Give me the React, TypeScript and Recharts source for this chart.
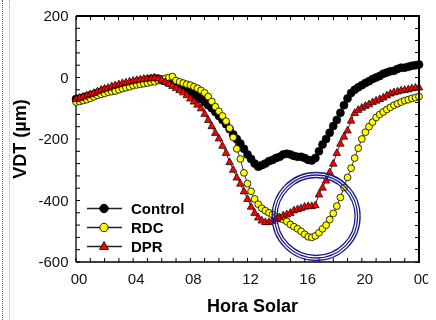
import React from 'react';
import { LineChart, Line, XAxis, YAxis, ReferenceDot } from 'recharts';

const hours = [
  0, 0.25, 0.5, 0.75, 1, 1.25, 1.5, 1.75, 2, 2.25, 2.5, 2.75, 3, 3.25, 3.5, 3.75,
  4, 4.25, 4.5, 4.75, 5, 5.25, 5.5, 5.75, 6, 6.25, 6.5, 6.75, 7, 7.25, 7.5, 7.75,
  8, 8.25, 8.5, 8.75, 9, 9.25, 9.5, 9.75, 10, 10.25, 10.5, 10.75, 11, 11.25, 11.5, 11.75,
  12, 12.25, 12.5, 12.75, 13, 13.25, 13.5, 13.75, 14, 14.25, 14.5, 14.75, 15, 15.25, 15.5, 15.75,
  16, 16.25, 16.5, 16.75, 17, 17.25, 17.5, 17.75, 18, 18.25, 18.5, 18.75, 19, 19.25, 19.5, 19.75,
  20, 20.25, 20.5, 20.75, 21, 21.25, 21.5, 21.75, 22, 22.25, 22.5, 22.75, 23, 23.25, 23.5, 23.75, 24,
];

const control = [
  -70, -68, -65, -62, -58, -55, -50, -47, -42, -40, -37, -33, -30, -27, -24, -22,
  -18, -15, -12, -10, -7, -5, -3, -4, -8, -12, -16, -20, -25, -30, -36, -42,
  -48, -55, -62, -70, -80, -90, -100, -112, -125, -138, -152, -168, -185, -200, -215, -232,
  -250, -265, -280, -290, -285, -280, -272, -268, -262, -258, -250, -248, -250, -255, -258, -258,
  -262, -268, -270, -262, -240, -218, -200, -180, -158, -138, -115, -90, -68, -50, -40, -32,
  -25, -18, -12, -5, 0, 5, 12, 16, 20, 22, 28, 32, 32, 35, 38, 40, 42,
];

const rdc = [
  -80, -78, -75, -72, -68, -63, -58, -55, -52, -48, -46, -44, -40, -36, -33, -30,
  -26, -24, -22, -20, -18, -15, -14, -10, -6, -3, 0, 3, -10, -14, -18, -22,
  -25, -30, -35, -42, -50, -62, -78, -95, -110, -125, -142, -165, -195, -232, -265, -310,
  -345, -370, -395, -412, -425, -433, -440, -446, -452, -458, -462, -468, -478, -485, -492, -500,
  -510, -518, -520, -515, -505, -492, -480, -462, -442, -418, -390, -358, -325, -295, -262, -230,
  -200, -178, -160, -145, -130, -120, -112, -104, -97, -90, -85, -80, -75, -72, -68, -65, -62,
];

const dpr = [
  -70, -66, -62, -58, -54, -50, -45, -40, -36, -33, -28, -25, -22, -18, -16, -13,
  -10, -8, -6, -4, -3, -2, 0, -3, -8, -14, -20, -27, -34, -41, -48, -57,
  -68, -78, -88, -100, -118, -138, -158, -180, -198, -222, -245, -275, -300, -325, -345, -370,
  -395, -420, -440, -455, -465, -470, -470, -466, -460, -455, -448, -445, -440, -432, -428, -425,
  -420, -418, -418, -415, -380, -358, -335, -308, -280, -245, -215, -192, -172, -140, -115, -105,
  -98, -92, -87, -80, -75, -70, -65, -58, -52, -48, -45, -42, -40, -38, -35, -33, -32,
];

const xTicks = [0, 1, 2, 3, 4, 5, 6, 7, 8, 9, 10, 11, 12, 13, 14, 15, 16, 17, 18, 19, 20, 21, 22, 23, 24];
const xLabels: Record<number, string> = { 0: '00', 4: '04', 8: '08', 12: '12', 16: '16', 20: '20', 24: '00' };
const yTicks = [-600, -560, -520, -480, -440, -400, -360, -320, -280, -240, -200, -160, -120, -80, -40, 0, 40, 80, 120, 160, 200];
const yLabels = [-600, -400, -200, 0, 200];

const seriesNames = ['Control', 'RDC', 'DPR'];
const highlight = { h: 16.8, v: -452 };

const data = hours.map((h, i) => ({ h, control: control[i], rdc: rdc[i], dpr: dpr[i] }));

const FONT = '"Liberation Sans", Arial, Helvetica, sans-serif';

const PLOT = { left: 68, top: 8, width: 343, height: 246 };

const Triangle = (props: any) => {
  const { cx, cy, index } = props;
  if (cx == null || cy == null) return <g key={`t${index}`} />;
  return (
    <path
      key={`t${index}`}
      d={`M${cx},${cy - 4.2}L${cx + 3.8},${cy + 2.6}L${cx - 3.8},${cy + 2.6}Z`}
      fill="#ff0000"
      stroke="#000"
      strokeWidth={0.7}
    />
  );
};

const LegendIcon = ({ kind }: { kind: number }) => (
  <svg width={44} height={19} style={{ display: 'block' }}>
    <line x1={0} y1={9.5} x2={35} y2={9.5} stroke="#222" strokeWidth={1.3} />
    {kind === 0 && <circle cx={17} cy={9.5} r={4.2} fill="#000" stroke="#000" />}
    {kind === 1 && <circle cx={17} cy={9.5} r={4.2} fill="#ffff00" stroke="#000" strokeWidth={0.9} />}
    {kind === 2 && <path d="M17,4.5L21.5,12.5L12.5,12.5Z" fill="#ff0000" stroke="#000" strokeWidth={0.8} />}
  </svg>
);

const axisLine = { stroke: '#000', strokeWidth: 1.3 };
const tickLine = { stroke: '#000', strokeWidth: 1 };
const tickStyle = { fill: '#111', fontSize: 15, fontFamily: FONT };

export default function App() {
  return (
    <div style={{ position: 'relative', width: 428, height: 312, fontFamily: FONT }}>
      <div style={{ position: 'fixed', left: 2, top: 0, width: 0, height: 320, borderLeft: '1px dotted #3d6b45' }} />
      <div style={{ position: 'fixed', left: 9, top: 0, width: 0, height: 320, borderLeft: '1px dotted #9fb3a0' }} />
      <LineChart width={428} height={312} data={data} margin={{ top: PLOT.top, right: 17, bottom: 0, left: 8 }}>
        <XAxis
          dataKey="h"
          type="number"
          domain={[0, 24]}
          ticks={xTicks}
          interval={0}
          tickFormatter={(v: number) => xLabels[v] ?? ''}
          tickSize={-4}
          tickMargin={15}
          height={58}
          axisLine={axisLine}
          tickLine={tickLine}
          tick={{ ...tickStyle, dx: 3 }}
          label={{
            value: 'Hora Solar',
            position: 'insideBottom',
            offset: 8,
            dx: 5,
            style: { fontSize: 18, fontWeight: 'bold', fill: '#000', fontFamily: FONT },
          }}
        />
        <YAxis
          type="number"
          domain={[-600, 200]}
          ticks={yTicks}
          interval={0}
          tickFormatter={(v: number) => (yLabels.includes(v) ? String(v) : '')}
          tickSize={-4}
          tickMargin={11.5}
          width={60}
          axisLine={axisLine}
          tickLine={tickLine}
          tick={tickStyle}
          label={{
            value: 'VDT (µm)',
            angle: -90,
            position: 'insideLeft',
            offset: 4,
            style: { textAnchor: 'middle', fontSize: 18, fontWeight: 'bold', fill: '#000', fontFamily: FONT },
          }}
        />
        <Line
          dataKey="control"
          name={seriesNames[0]}
          stroke="#000"
          strokeWidth={0.8}
          dot={{ r: 4, fill: '#000', stroke: '#000', strokeWidth: 0.6 }}
          isAnimationActive={false}
        />
        <Line
          dataKey="rdc"
          name={seriesNames[1]}
          stroke="#000"
          strokeWidth={0.8}
          dot={{ r: 3.4, fill: '#ffff00', stroke: '#000', strokeWidth: 0.8 }}
          isAnimationActive={false}
        />
        <Line
          dataKey="dpr"
          name={seriesNames[2]}
          stroke="#000"
          strokeWidth={0.8}
          dot={Triangle}
          isAnimationActive={false}
        />
        <ReferenceDot x={highlight.h} y={highlight.v} r={44} fill="none" stroke="#1c1c8a" strokeWidth={1.3} />
        <ReferenceDot x={highlight.h} y={highlight.v} r={41.5} fill="none" stroke="#1c1c8a" strokeWidth={1.3} />
        <ReferenceDot x={highlight.h} y={highlight.v} r={39} fill="none" stroke="#1c1c8a" strokeWidth={1.3} />
      </LineChart>
      {/* top and right frame edges of the plot box, with inward hour / 40-unit ticks */}
      <div
        style={{
          position: 'absolute',
          zIndex: 20,
          left: PLOT.left,
          top: PLOT.top - 1,
          width: PLOT.width + 1,
          height: 2,
          background: '#000',
          pointerEvents: 'none',
        }}
      />
      <div
        style={{
          position: 'absolute',
          zIndex: 20,
          left: PLOT.left + PLOT.width - 1,
          top: PLOT.top - 1,
          width: 2,
          height: PLOT.height + 2,
          background: '#000',
          pointerEvents: 'none',
        }}
      />
      {xTicks.map((t) => (
        <div
          key={`tx${t}`}
          style={{
            position: 'absolute',
            zIndex: 20,
            left: PLOT.left + (t / 24) * PLOT.width - 0.5,
            top: PLOT.top,
            width: 1,
            height: 4,
            background: '#000',
            pointerEvents: 'none',
          }}
        />
      ))}
      {yTicks.map((t) => (
        <div
          key={`ty${t}`}
          style={{
            position: 'absolute',
            zIndex: 20,
            left: PLOT.left + PLOT.width - 4,
            top: PLOT.top + ((200 - t) / 800) * PLOT.height - 0.5,
            width: 4,
            height: 1,
            background: '#000',
            pointerEvents: 'none',
          }}
        />
      ))}
      <div style={{ position: 'absolute', zIndex: 20, left: 79, top: 190.5 }}>
        {seriesNames.map((n, i) => (
          <div key={n} style={{ display: 'flex', alignItems: 'center', height: 19 }}>
            <LegendIcon kind={i} />
            <span style={{ fontSize: 15, fontWeight: 'bold', color: '#000', lineHeight: '19px' }}>{n}</span>
          </div>
        ))}
      </div>
    </div>
  );
}
